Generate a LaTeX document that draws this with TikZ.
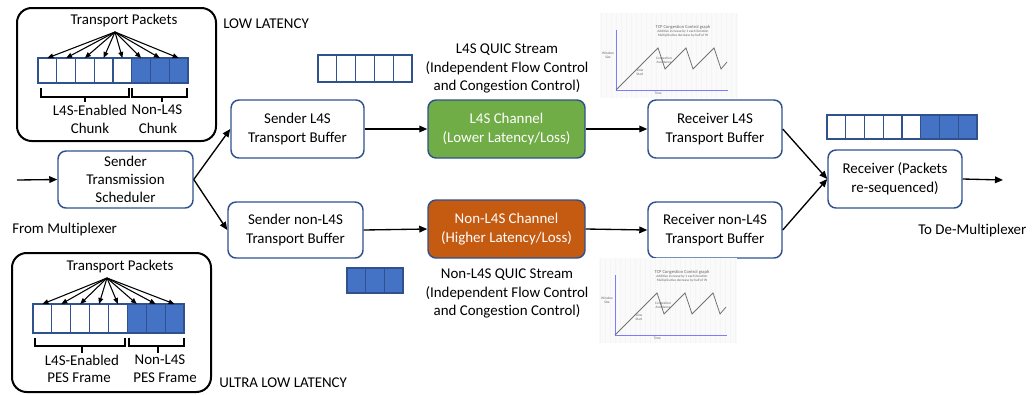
\documentclass[tikz,border=0pt]{standalone}
\usepackage{fontspec}
\setmainfont{Carlito}[Ligatures=NoCommon]
\usetikzlibrary{arrows.meta}

\definecolor{edge}{HTML}{2F528F}
\definecolor{pblue}{HTML}{4472C4}
\definecolor{lgreen}{HTML}{70AD47}
\definecolor{dorange}{HTML}{C55A11}
\definecolor{axisblue}{HTML}{7C7CFF}

\tikzset{
  lbl/.style={font=\fontsize{11.2}{14.2}\selectfont, inner sep=0pt, align=center},
  box/.style={lbl, draw=edge, line width=1.1pt, rounded corners=6pt, fill=white},
  panel/.style={draw=black, line width=1.5pt, rounded corners=11pt},
  cell/.style={draw=edge, line width=0.9pt, inner sep=0pt, outer sep=0pt},
  flow/.style={line width=1pt, -{Triangle[length=6pt,width=5pt]}},
  fan/.style={line width=0.8pt, -{Triangle[length=4.5pt,width=3.6pt]}},
  bracket/.style={line width=1pt},
  tiny/.style={font=\fontsize{2.6}{3}\selectfont, inner sep=0pt, text=black!60, align=center}
}

\begin{document}
\begin{tikzpicture}[x=0.75pt, y=-0.75pt]
\useasboundingbox (0,0) rectangle (1034,394);

% ---------- low latency panel ----------
\draw[panel] (17,8) rectangle (216,141);
\node[lbl] (tpA) at (124,21) {Transport Packets};
\coordinate (fanA) at (115,32);
\foreach \i in {1,...,5}
  \node[cell, fill=white, minimum width=14.06pt, minimum height=18.75pt] (ca\i) at ({38+(\i-0.5)*18.75},70.5) {};
\foreach \i in {6,7,8}
  \node[cell, fill=pblue, minimum width=14.06pt, minimum height=18.75pt] (ca\i) at ({38+(\i-0.5)*18.75},70.5) {};
\foreach \i in {1,...,8}
  \draw[fan] (fanA) -- (ca\i.north);
\draw[bracket] (41,88) -- (41,97) -- (129,97) -- (129,88) (85,97) -- (85,102);
\draw[bracket] (132,88) -- (132,97) -- (187,97) -- (187,88) (162,97) -- (162,102);
\node[lbl] (enA) at (90,110) {L4S-Enabled};
\node[lbl] (nnA) at (157,110) {Non-L4S};
\node[lbl] (chA) at (90,128) {Chunk};
\node[lbl] (chB) at (158,128) {Chunk};
\node[lbl, anchor=west] (low) at (223,24) {LOW LATENCY};

% ---------- ultra low latency panel ----------
\draw[panel] (12,253) rectangle (211,392);
\node[lbl] (tpB) at (120,267) {Transport Packets};
\coordinate (fanB) at (107,278);
\foreach \i in {1,...,5}
  \node[cell, fill=white, minimum width=14.16pt, minimum height=21.75pt] (cb\i) at ({33+(\i-0.5)*18.875},318.5) {};
\foreach \i in {6,7,8}
  \node[cell, fill=pblue, minimum width=14.16pt, minimum height=21.75pt] (cb\i) at ({33+(\i-0.5)*18.875},318.5) {};
\foreach \i in {1,...,8}
  \draw[fan] (fanB) -- (cb\i.north);
\draw[bracket] (35,338) -- (35,346) -- (125,346) -- (125,338) (82,346) -- (82,353);
\draw[bracket] (129,338) -- (129,346) -- (184,346) -- (184,338) (158,346) -- (158,353);
\node[lbl] (enB) at (82,360) {L4S-Enabled};
\node[lbl] (nnB) at (160,360) {Non-L4S};
\node[lbl] (pfA) at (79,378) {PES Frame};
\node[lbl] (pfB) at (165,378) {PES Frame};
\node[lbl, anchor=west] (ultra) at (219,383) {ULTRA LOW LATENCY};

% ---------- transmission chain ----------
\node[box, minimum width=101.25pt, minimum height=42.75pt] (sched) at (125.5,179.5) {Sender\\[-0.6pt]Transmission\\[-0.6pt]Scheduler};
\node[box, minimum width=99.75pt, minimum height=43.5pt] (sL) at (297.5,129) {Sender L4S\\Transport Buffer};
\node[box, minimum width=101.25pt, minimum height=42pt] (sN) at (295.5,230) {Sender non-L4S\\Transport Buffer};
\node[box, fill=lgreen, text=white, minimum width=117.75pt, minimum height=43.5pt] (chL) at (506.5,129) {L4S Channel\\(Lower Latency/Loss)};
\node[box, fill=dorange, text=white, minimum width=117.75pt, minimum height=43.5pt] (chN) at (506.5,229) {Non-L4S Channel\\(Higher Latency/Loss)};
\node[box, minimum width=100.5pt, minimum height=43.5pt] (rL) at (715,129) {Receiver L4S\\Transport Buffer};
\node[box, minimum width=100.5pt, minimum height=42pt] (rN) at (715,230) {Receiver non-L4S\\Transport Buffer};
\node[box, minimum width=100.5pt, minimum height=43.5pt] (recv) at (895,179) {Receiver (Packets\\re-sequenced)};

\coordinate (inp) at (17,180);
\coordinate (outp) at (1003,180);
\draw[flow] (inp) -- (sched.west);
\draw[flow] (sched.east) -- (sL.west);
\draw[flow] (sched.east) -- (sN.west);
\draw[flow] (sL.east) -- (chL.west);
\draw[flow] (sN.east) -- (chN.west);
\draw[flow] (chL.east) -- (rL.west);
\draw[flow] (chN.east) -- (rN.west);
\draw[flow] (rL.east) -- (recv.west);
\draw[flow] (rN.east) -- (recv.west);
\draw[flow] (recv.east) -- (outp);

\node[lbl, anchor=west] (from) at (12,230) {From Multiplexer};
\node[lbl, anchor=west] (to) at (918,231) {To De-Multiplexer};

% ---------- stream captions ----------
\node[lbl, font=\fontsize{11.2}{13.9}\selectfont] (qL) at (507,68.5) {L4S QUIC Stream\\(Independent Flow Control\\and Congestion Control)};
\node[lbl, font=\fontsize{11.2}{13.9}\selectfont] (qN) at (507,293.5) {Non-L4S QUIC Stream\\(Independent Flow Control\\and Congestion Control)};

% ---------- packets in flight ----------
\foreach \i in {1,...,5}
  \node[cell, fill=white, minimum width=14.1pt, minimum height=20.25pt] (cs\i) at ({318+(\i-0.5)*18.8},68.5) {};
\foreach \i in {1,2,3}
  \node[cell, fill=pblue, minimum width=14pt, minimum height=18.75pt] (cn\i) at ({347+(\i-0.5)*18.67},280.5) {};
\foreach \i in {1,...,5}
  \node[cell, fill=white, minimum width=14.06pt, minimum height=18pt] (cr\i) at ({827+(\i-0.5)*18.75},127) {};
\foreach \i in {6,7,8}
  \node[cell, fill=pblue, minimum width=14.06pt, minimum height=18pt] (cr\i) at ({827+(\i-0.5)*18.75},127) {};

% ---------- congestion window sketches ----------
\foreach \gx/\gy/\gn in {616/90/gA, 615/335/gB} {
  \begin{scope}[shift={(\gx,\gy)}]
    \fill[black!2] (-16,-77) rectangle (122,8);
    \draw[black!4, line width=0.15pt] (-16,-77) grid[step=5] (122,8);
    \draw[axisblue, line width=0.6pt] (0,0) -- (0,-60);
    \draw[axisblue, line width=0.6pt] (0,0) -- (112,0);
    \draw[black!55, line width=0.6pt] (0,0) -- (42,-42) -- (49,-21) -- (70,-42) -- (77,-21) -- (98,-42) -- (105,-21) -- (111,-28);
    \node[tiny, font=\fontsize{3.4}{4}\selectfont] (\gn t) at (67,-63) {TCP Congestion Control graph};
    \node[tiny] (\gn s) at (67,-56.5) {Additive increase by 1 each iteration\\Multiplicative decrease by half of W};
    \node[tiny] (\gn y) at (-8,-35) {Window\\Size};
    \node[tiny] (\gn x) at (42,3) {Time};
    \node[tiny] (\gn a) at (24,-18) {Slow\\Start};
    \node[tiny] (\gn b) at (48,-30) {Congestion\\Avoidance};
  \end{scope}
}
\end{tikzpicture}
\end{document}
